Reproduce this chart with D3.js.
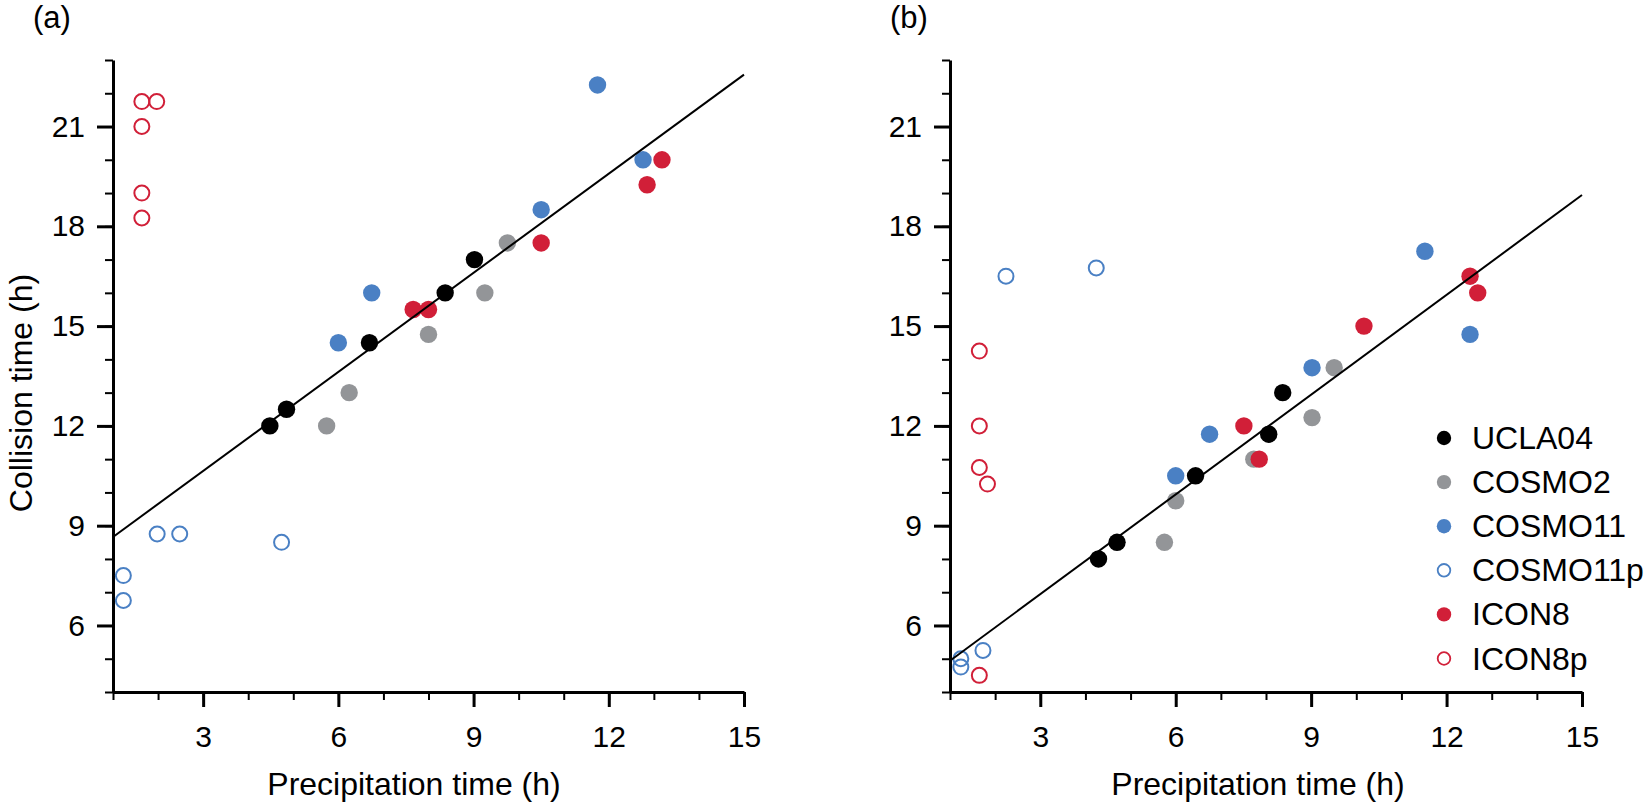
<!DOCTYPE html>
<html>
<head>
<meta charset="utf-8">
<script src="https://cdn.jsdelivr.net/npm/d3@7"></script>
<style>
  body { margin: 0; background: #fff; }
  text { font-family: "Liberation Sans", Arial, Helvetica, sans-serif; fill: #000; }
</style>
</head>
<body>
<div id="chart"></div>
<script>
// series names and styles
var seriesNames = ["COSMO2", "UCLA04", "COSMO11", "ICON8", "COSMO11p", "ICON8p"];
var legendOrder = ["UCLA04", "COSMO2", "COSMO11", "COSMO11p", "ICON8", "ICON8p"];
var seriesColor = { UCLA04: "#000000", COSMO2: "#939598", COSMO11: "#4a80c4", COSMO11p: "#4a80c4", ICON8: "#d11f38", ICON8p: "#d11f38" };
var seriesOpen = { UCLA04: false, COSMO2: false, COSMO11: false, COSMO11p: true, ICON8: false, ICON8p: true };

var xTicksMajor = [3, 6, 9, 12, 15];
var yTicksMajor = [6, 9, 12, 15, 18, 21];

// panel (a) values: precipitation time (x) / collision time (y)
var a_UCLA04_x = [4.48, 4.85, 6.69, 8.37, 9.02];
var a_UCLA04_y = [12, 12.5, 14.5, 16, 17];
var a_COSMO2_x = [5.74, 6.24, 8.0, 9.25, 9.75];
var a_COSMO2_y = [12, 13, 14.75, 16, 17.5];
var a_COSMO11_x = [6.0, 6.74, 10.5, 11.75, 12.76];
var a_COSMO11_y = [14.5, 16, 18.5, 22.25, 20];
var a_ICON8_x = [7.66, 8.0, 10.5, 12.85, 13.18];
var a_ICON8_y = [15.5, 15.5, 17.5, 19.25, 20];
var a_COSMO11p_x = [1.23, 1.23, 1.98, 2.48, 4.74];
var a_COSMO11p_y = [7.5, 6.75, 8.75, 8.75, 8.5];
var a_ICON8p_x = [1.64, 1.97, 1.64, 1.64, 1.64];
var a_ICON8p_y = [21.75, 21.75, 21, 19, 18.25];
var a_fit_x = [1, 15];
var a_fit_y = [8.66, 22.56];

// panel (b) values
var b_UCLA04_x = [4.29, 4.70, 6.44, 8.06, 8.37];
var b_UCLA04_y = [8.0, 8.5, 10.5, 11.75, 13.0];
var b_COSMO2_x = [5.75, 6.0, 7.73, 9.02, 9.51];
var b_COSMO2_y = [8.5, 9.75, 11.0, 12.25, 13.75];
var b_COSMO11_x = [6.0, 6.75, 9.02, 11.52, 12.52];
var b_COSMO11_y = [10.5, 11.75, 13.75, 17.25, 14.75];
var b_ICON8_x = [7.51, 7.85, 10.17, 12.52, 12.69];
var b_ICON8_y = [12.0, 11.0, 15.0, 16.5, 16.0];
var b_COSMO11p_x = [1.24, 1.24, 1.73, 2.24, 4.24];
var b_COSMO11p_y = [5.0, 4.75, 5.25, 16.5, 16.75];
var b_ICON8p_x = [1.65, 1.65, 1.65, 1.83, 1.65];
var b_ICON8p_y = [14.25, 12.0, 10.75, 10.25, 4.5];
var b_fit_x = [1, 15];
var b_fit_y = [4.94, 18.94];

var panelA = {
  label: "(a)", left: 113, right: 744, labelX: 33, titleX: 414, yTitle: true, legend: false,
  series: {
    UCLA04: [a_UCLA04_x, a_UCLA04_y], COSMO2: [a_COSMO2_x, a_COSMO2_y],
    COSMO11: [a_COSMO11_x, a_COSMO11_y], COSMO11p: [a_COSMO11p_x, a_COSMO11p_y],
    ICON8: [a_ICON8_x, a_ICON8_y], ICON8p: [a_ICON8p_x, a_ICON8p_y]
  },
  fit: [a_fit_x, a_fit_y]
};
var panelB = {
  label: "(b)", left: 950, right: 1582, labelX: 890, titleX: 1258, yTitle: false, legend: true,
  series: {
    UCLA04: [b_UCLA04_x, b_UCLA04_y], COSMO2: [b_COSMO2_x, b_COSMO2_y],
    COSMO11: [b_COSMO11_x, b_COSMO11_y], COSMO11p: [b_COSMO11p_x, b_COSMO11p_y],
    ICON8: [b_ICON8_x, b_ICON8_y], ICON8p: [b_ICON8p_x, b_ICON8p_y]
  },
  fit: [b_fit_x, b_fit_y]
};

var svg = d3.select("#chart")
  .append("svg")
  .attr("width", 1651)
  .attr("height", 803);

var plotTop = 60, plotBottom = 692;

Desenhar(panelA);
Desenhar(panelB);

function Desenhar(p)
{
  var x = d3.scaleLinear().domain([1, 15]).range([p.left, p.right]);
  var y = d3.scaleLinear().domain([4, 23]).range([plotBottom, plotTop]);
  var g = svg.append("g");

  // minor ticks every hour
  var xMinor = g.append("g").attr("transform", "translate(0," + plotBottom + ")")
    .call(d3.axisBottom(x).tickValues(d3.range(1, 16)).tickSize(8).tickSizeOuter(0).tickFormat(""));
  var yMinor = g.append("g").attr("transform", "translate(" + p.left + ",0)")
    .call(d3.axisLeft(y).tickValues(d3.range(4, 24)).tickSize(8).tickSizeOuter(0).tickFormat(""));
  xMinor.selectAll(".tick line").attr("stroke-width", 2);
  yMinor.selectAll(".tick line").attr("stroke-width", 2);
  xMinor.select(".domain").remove();
  yMinor.select(".domain").remove();

  // major ticks with labels
  var xMajor = g.append("g").attr("transform", "translate(0," + plotBottom + ")")
    .call(d3.axisBottom(x).tickValues(xTicksMajor).tickSize(15).tickSizeOuter(0).tickPadding(19).tickFormat(d3.format("d")));
  var yMajor = g.append("g").attr("transform", "translate(" + p.left + ",0)")
    .call(d3.axisLeft(y).tickValues(yTicksMajor).tickSize(16).tickSizeOuter(0).tickPadding(12).tickFormat(d3.format("d")));
  [xMajor, yMajor].forEach(function (ax) {
    ax.attr("font-family", null).attr("font-size", 30);
    ax.selectAll(".tick line").attr("stroke-width", 3);
    ax.select(".domain").attr("stroke-width", 3);
  });

  // points
  seriesNames.forEach(function (name) {
    var xs = p.series[name][0], ys = p.series[name][1];
    var pts = xs.map(function (v, i) { return { x: v, y: ys[i] }; });
    var open = seriesOpen[name];
    g.append("g").selectAll("circle").data(pts).enter()
      .append("circle")
      .attr("cx", function (d) { return x(d.x); })
      .attr("cy", function (d) { return y(d.y); })
      .attr("r", open ? 7.5 : 8.7)
      .attr("fill", open ? "none" : seriesColor[name])
      .attr("stroke", open ? seriesColor[name] : "none")
      .attr("stroke-width", 2);
  });

  // fit line on top
  var fitPts = p.fit[0].map(function (v, i) { return [v, p.fit[1][i]]; });
  g.append("path")
    .attr("d", d3.line().x(function (d) { return x(d[0]); }).y(function (d) { return y(d[1]); })(fitPts))
    .attr("fill", "none")
    .attr("stroke", "#000")
    .attr("stroke-width", 2);

  // titles
  g.append("text").attr("x", p.labelX).attr("y", 28).attr("font-size", 31).text(p.label);
  g.append("text").attr("x", p.titleX).attr("y", 795).attr("text-anchor", "middle")
    .attr("font-size", 32).text("Precipitation time (h)");
  if (p.yTitle) {
    g.append("text").attr("transform", "translate(32,393) rotate(-90)")
      .attr("text-anchor", "middle").attr("font-size", 32).text("Collision time (h)");
  }

  if (p.legend) {
    var lg = g.append("g").selectAll("g").data(legendOrder).enter()
      .append("g")
      .attr("transform", function (d, i) { return "translate(1444," + (438 + i * 44.1) + ")"; });
    lg.append("circle")
      .attr("r", function (d) { return seriesOpen[d] ? 6.3 : 7.2; })
      .attr("fill", function (d) { return seriesOpen[d] ? "none" : seriesColor[d]; })
      .attr("stroke", function (d) { return seriesOpen[d] ? seriesColor[d] : "none"; })
      .attr("stroke-width", 1.8);
    lg.append("text").attr("x", 28).attr("y", 11).attr("font-size", 32).text(function (d) { return d; });
  }
}
</script>
</body>
</html>
